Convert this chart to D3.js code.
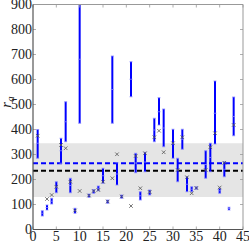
<!DOCTYPE html>
<html>
<head>
<meta charset="utf-8">
<script src="https://cdn.jsdelivr.net/npm/d3@7"></script>
<style>
  body { margin: 0; background: #fff; }
  svg { display: block; }
  text { font-family: "Liberation Serif", "DejaVu Serif", serif; }
</style>
</head>
<body>
<svg id="chart"></svg>
<script>
let w = 249;
let h = 242;

// index of each estimate
let ids    = [1, 2, 3, 4, 5, 6, 7, 8, 9, 10, 12, 13, 14, 15, 16, 17, 18, 19, 21, 22, 23, 24, 25, 26, 27, 28, 30, 31, 32, 33, 34, 35, 37, 38, 39, 40, 41, 42, 43];
// error bar low / high / centre (blue)
let lows   = [285, 54, 78, 102, 147, 265, 351, 147, 65, 425, 129, 145, 155, 185, 105, 425, 178, 125, 531, 227, 118, 231, 138, 351, 418, 331, 285, 191, 321, 151, 151, 161, 205, 231, 342, 145, 211, 78, 375];
let highs  = [400, 75, 98, 125, 191, 365, 511, 205, 85, 937, 142, 160, 174, 245, 118, 694, 267, 138, 671, 305, 151, 309, 158, 445, 527, 482, 401, 285, 401, 211, 171, 171, 315, 345, 594, 165, 271, 89, 530];
let mids   = [345, 65, 88, 113, 170, 315, 431, 176, 76, 681, 136, 153, 165, 215, 112, 560, 222, 132, 601, 266, 135, 270, 148, 398, 471, 406, 343, 238, 361, 181, 161, 166, 260, 288, 465, 155, 241, 84, 452];
// second estimate (grey crosses), null where none
let crosses = [375, null, 122, 138, 171, 338, 325, 191, 76, 154, 136, 154, 158, 191, 112, 205, 301, 132, 94, 294, 165, 305, 150, 369, 395, 309, 345, 238, 369, 209, 145, 166, 238, 329, 385, 168, 267, null, 418];

let bandLow = 130, bandHigh = 345;
let blueRef = 265;
let blackRef = 235;

let xTicks = [0, 5, 10, 15, 20, 25, 30, 35, 40, 45];
let yTicks = [0, 100, 200, 300, 400, 500, 600, 700, 800, 900];

let svg = d3.select("#chart").attr("width", w).attr("height", h);

let xScale = d3.scaleLinear().domain([0, 45]).range([33, 243]);
let yScale = d3.scaleLinear().domain([0, 900]).range([229.5, 4.5]);

svg.append("clipPath").attr("id", "plotclip")
  .append("rect")
  .attr("x", xScale(0)).attr("y", yScale(900))
  .attr("width", xScale(45) - xScale(0))
  .attr("height", yScale(0) - yScale(900));

let plot = svg.append("g").attr("clip-path", "url(#plotclip)");

// grey band
plot.append("rect")
  .attr("x", xScale(0))
  .attr("y", yScale(bandHigh))
  .attr("width", xScale(45) - xScale(0))
  .attr("height", yScale(bandLow) - yScale(bandHigh))
  .attr("fill", "#e5e5e5");

// reference lines
plot.append("line")
  .attr("x1", xScale(0)).attr("x2", xScale(45))
  .attr("y1", yScale(blackRef)).attr("y2", yScale(blackRef))
  .attr("stroke", "#000").attr("stroke-width", 2)
  .attr("stroke-dasharray", "5,3");
plot.append("line")
  .attr("x1", xScale(0)).attr("x2", xScale(45))
  .attr("y1", yScale(blueRef)).attr("y2", yScale(blueRef))
  .attr("stroke", "#0000ff").attr("stroke-width", 2)
  .attr("stroke-dasharray", "5,3");

let rows = ids.map((n, i) => ({ n: n, lo: lows[i], hi: highs[i], mid: mids[i], cr: crosses[i] }));

// error bars
let bars = plot.selectAll("g.bar").data(rows).enter().append("g").attr("class", "bar");
bars.append("line")
  .attr("x1", d => xScale(d.n)).attr("x2", d => xScale(d.n))
  .attr("y1", d => yScale(d.lo)).attr("y2", d => yScale(d.hi))
  .attr("stroke", "#0000ff").attr("stroke-width", 2);
["lo", "hi", "mid"].forEach(k => {
  bars.append("line")
    .attr("x1", d => xScale(d.n) - 1.5).attr("x2", d => xScale(d.n) + 1.5)
    .attr("y1", d => yScale(d[k])).attr("y2", d => yScale(d[k]))
    .attr("stroke", "#8888ff").attr("stroke-width", 0.8);
});

// grey crosses
let cross = d3.symbol().type(d3.symbolX).size(10);
plot.selectAll("path.cross").data(rows.filter(d => d.cr !== null)).enter()
  .append("path").attr("class", "cross")
  .attr("d", cross)
  .attr("transform", d => `translate(${xScale(d.n)},${yScale(d.cr)})`)
  .attr("fill", "none").attr("stroke", "#555").attr("stroke-width", 0.8);

// frame + inward ticks
let x0 = xScale(0), x1 = xScale(45), y0 = yScale(0), y1 = yScale(900);
let tickLen = 3;
let ax = svg.append("g");
ax.selectAll("line.tt").data(xTicks).enter().append("line")
  .attr("x1", d => xScale(d)).attr("x2", d => xScale(d))
  .attr("y1", y1).attr("y2", y1 + tickLen)
  .attr("stroke", "#999").attr("stroke-width", 0.8);
ax.selectAll("line.bt").data(xTicks).enter().append("line")
  .attr("x1", d => xScale(d)).attr("x2", d => xScale(d))
  .attr("y1", y0).attr("y2", y0 - tickLen)
  .attr("stroke", "#999").attr("stroke-width", 0.8);
ax.selectAll("line.rt").data(yTicks).enter().append("line")
  .attr("x1", x1).attr("x2", x1 - tickLen)
  .attr("y1", d => yScale(d)).attr("y2", d => yScale(d))
  .attr("stroke", "#999").attr("stroke-width", 0.8);
ax.selectAll("line.lt").data(yTicks).enter().append("line")
  .attr("x1", x0).attr("x2", x0 + tickLen)
  .attr("y1", d => yScale(d)).attr("y2", d => yScale(d))
  .attr("stroke", "#999").attr("stroke-width", 0.8);

ax.append("line").attr("x1", x0).attr("x2", x1).attr("y1", y1).attr("y2", y1)
  .attr("stroke", "#999").attr("stroke-width", 1);
ax.append("line").attr("x1", x1).attr("x2", x1).attr("y1", y1).attr("y2", y0)
  .attr("stroke", "#999").attr("stroke-width", 1);
ax.append("line").attr("x1", x0).attr("x2", x1).attr("y1", y0).attr("y2", y0)
  .attr("stroke", "#555").attr("stroke-width", 1.2);
ax.append("line").attr("x1", x0).attr("x2", x0).attr("y1", y1).attr("y2", y0)
  .attr("stroke", "#555").attr("stroke-width", 1.2);

// tick labels
ax.selectAll("text.yl").data(yTicks).enter().append("text")
  .attr("x", x0 - 1).attr("y", d => yScale(d))
  .attr("dy", "0.35em")
  .attr("text-anchor", "end")
  .attr("font-size", 14)
  .attr("fill", "#222")
  .text(d => d);
ax.selectAll("text.xl").data(xTicks).enter().append("text")
  .attr("x", d => xScale(d)).attr("y", 241)
  .attr("text-anchor", "middle")
  .attr("font-size", 14)
  .attr("fill", "#222")
  .text(d => d);

// y label r_a
let yl = svg.append("text")
  .attr("transform", "translate(11,102) rotate(-90)")
  .attr("text-anchor", "middle")
  .attr("font-size", 15)
  .attr("font-style", "italic")
  .attr("fill", "#222");
yl.append("tspan").text("r");
yl.append("tspan").attr("font-size", 11).attr("dy", 3).text("a");
</script>
</body>
</html>
